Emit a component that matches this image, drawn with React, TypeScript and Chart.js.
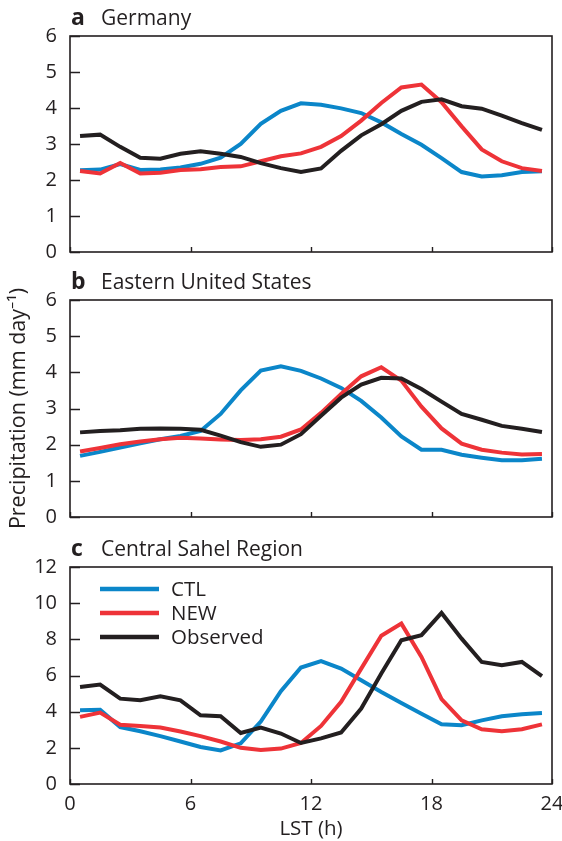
import React, { useEffect, useRef } from "react";
import { Chart, registerables } from "chart.js";

Chart.register(...registerables);

// Local solar time (h) of each hourly mean
const hours = [0.5, 1.5, 2.5, 3.5, 4.5, 5.5, 6.5, 7.5, 8.5, 9.5, 10.5, 11.5, 12.5, 13.5, 14.5, 15.5, 16.5, 17.5, 18.5, 19.5, 20.5, 21.5, 22.5, 23.5];
const xTicks = [0, 6, 12, 18, 24];
const seriesNames = ["CTL", "NEW", "Observed"];

// a  Germany
const germanyCTL = [2.27, 2.29, 2.44, 2.28, 2.29, 2.35, 2.45, 2.62, 3.0, 3.56, 3.92, 4.13, 4.09, 3.99, 3.86, 3.6, 3.28, 2.98, 2.61, 2.22, 2.1, 2.13, 2.22, 2.24];
const germanyNEW = [2.25, 2.18, 2.47, 2.18, 2.2, 2.28, 2.3, 2.36, 2.38, 2.52, 2.66, 2.74, 2.92, 3.22, 3.65, 4.14, 4.57, 4.65, 4.16, 3.49, 2.85, 2.52, 2.33, 2.25];
const germanyObs = [3.22, 3.26, 2.92, 2.62, 2.59, 2.73, 2.8, 2.73, 2.64, 2.47, 2.33, 2.22, 2.32, 2.81, 3.24, 3.55, 3.92, 4.17, 4.24, 4.05, 3.98, 3.79, 3.58, 3.39];

// b  Eastern United States
const usCTL = [1.69, 1.8, 1.92, 2.04, 2.15, 2.24, 2.38, 2.85, 3.5, 4.05, 4.17, 4.04, 3.83, 3.57, 3.21, 2.75, 2.23, 1.86, 1.86, 1.72, 1.64, 1.57, 1.57, 1.61];
const usNEW = [1.81, 1.91, 2.01, 2.09, 2.15, 2.19, 2.17, 2.14, 2.13, 2.15, 2.22, 2.42, 2.88, 3.4, 3.89, 4.14, 3.77, 3.05, 2.45, 2.03, 1.86, 1.78, 1.73, 1.74];
const usObs = [2.34, 2.38, 2.4, 2.44, 2.45, 2.44, 2.41, 2.25, 2.07, 1.94, 2.0, 2.29, 2.8, 3.3, 3.66, 3.85, 3.83, 3.54, 3.19, 2.85, 2.69, 2.52, 2.44, 2.35];

// c  Central Sahel Region
const sahelCTL = [4.08, 4.1, 3.15, 2.92, 2.65, 2.35, 2.05, 1.86, 2.25, 3.45, 5.13, 6.44, 6.8, 6.38, 5.74, 5.09, 4.48, 3.89, 3.3, 3.25, 3.52, 3.75, 3.86, 3.93];
const sahelNEW = [3.71, 3.95, 3.28, 3.21, 3.12, 2.9, 2.65, 2.35, 2.0, 1.88, 1.96, 2.27, 3.21, 4.54, 6.38, 8.2, 8.87, 7.03, 4.69, 3.52, 3.03, 2.92, 3.03, 3.3];
const sahelObs = [5.37, 5.5, 4.72, 4.63, 4.85, 4.63, 3.8, 3.75, 2.82, 3.12, 2.79, 2.27, 2.52, 2.85, 4.17, 6.11, 7.95, 8.23, 9.46, 8.04, 6.75, 6.57, 6.75, 5.96];

const yTicksSmall = [0, 1, 2, 3, 4, 5, 6];
const yTicksLarge = [0, 2, 4, 6, 8, 10, 12];

const panels = [
  { letter: "a", title: "Germany", series: [germanyCTL, germanyNEW, germanyObs], yTicks: yTicksSmall },
  { letter: "b", title: "Eastern United States", series: [usCTL, usNEW, usObs], yTicks: yTicksSmall },
  { letter: "c", title: "Central Sahel Region", series: [sahelCTL, sahelNEW, sahelObs], yTicks: yTicksLarge },
];

// layout (pixels)
const layouts = [
  { top: 0, height: 270, padTop: 36, xAxisH: 18, showX: false, legend: false, yTitle: false },
  { top: 262, height: 273, padTop: 38, xAxisH: 18, showX: false, legend: false, yTitle: true },
  { top: 527, height: 314, padTop: 40, xAxisH: 57, showX: true, legend: true, yTitle: false },
];

const COLORS = ["#0b86c9", "#ee3338", "#231f20"];
const INK = "#231f20";
const FONT = "'Open Sans', 'Noto Sans', sans-serif";

const framePlugin = {
  id: "frame",
  afterDraw(chart: any, _args: any, opts: any) {
    const { ctx, chartArea: a, scales } = chart;
    ctx.save();
    ctx.strokeStyle = INK;
    ctx.lineWidth = 1.6;
    ctx.strokeRect(a.left, a.top, a.right - a.left, a.bottom - a.top);
    ctx.lineWidth = 1.4;
    ctx.beginPath();
    for (const v of opts.yTicks) {
      const y = Math.round(scales.y.getPixelForValue(v)) + 0.5;
      ctx.moveTo(a.left, y);
      ctx.lineTo(a.left + 10, y);
    }
    for (const v of xTicks) {
      const x = Math.round(scales.x.getPixelForValue(v)) + 0.5;
      ctx.moveTo(x, a.bottom);
      ctx.lineTo(x, a.bottom - 5);
    }
    ctx.stroke();

    // panel title
    ctx.fillStyle = INK;
    ctx.textBaseline = "alphabetic";
    ctx.textAlign = "left";
    ctx.font = `bold 23px ${FONT}`;
    ctx.fillText(opts.letter, a.left + 1, a.top - 11);
    ctx.font = `21px ${FONT}`;
    ctx.fillText(opts.title, a.left + 31, a.top - 11);

    // legend
    if (opts.legend) {
      chart.data.datasets.forEach((ds: any, i: number) => {
        const y = a.top + 22 + i * 24;
        ctx.strokeStyle = ds.borderColor;
        ctx.lineWidth = 4.5;
        ctx.lineCap = "butt";
        ctx.beginPath();
        ctx.moveTo(a.left + 30, y);
        ctx.lineTo(a.left + 89, y);
        ctx.stroke();
        ctx.fillStyle = INK;
        ctx.font = `20.5px ${FONT}`;
        ctx.textBaseline = "middle";
        ctx.fillText(ds.label, a.left + 101, y + 1);
      });
    }
    ctx.restore();
  },
};

function Panel({ idx }: { idx: number }) {
  const ref = useRef<HTMLCanvasElement | null>(null);
  const p = panels[idx];
  const l = layouts[idx];
  useEffect(() => {
    if (!ref.current) return;
    const yMax = p.yTicks[p.yTicks.length - 1];
    const chart = new Chart(ref.current, {
      type: "line",
      data: {
        datasets: p.series.map((vals, i) => ({
          label: seriesNames[i],
          data: vals.map((v, k) => ({ x: hours[k], y: v })),
          borderColor: COLORS[i],
          backgroundColor: COLORS[i],
          borderWidth: 4,
          pointRadius: 0,
          tension: 0,
          fill: false,
          order: 2 - i,
        })),
      },
      options: {
        responsive: false,
        animation: false,
        devicePixelRatio: 1,
        layout: { autoPadding: false, padding: { left: 0, right: 10, top: l.padTop, bottom: 0 } },
        plugins: {
          legend: { display: false },
          tooltip: { enabled: false },
          frame: { letter: p.letter, title: p.title, yTicks: p.yTicks, legend: l.legend },
        } as any,
        scales: {
          x: {
            type: "linear",
            min: 0,
            max: 24,
            afterBuildTicks: (s: any) => { s.ticks = xTicks.map((v) => ({ value: v })); },
            afterFit: (s: any) => { s.height = l.xAxisH; s.paddingLeft = 0; s.paddingRight = 0; },
            grid: { display: false, drawTicks: false },
            border: { display: false },
            ticks: { display: l.showX, color: INK, font: { family: FONT, size: 20 }, padding: 8, maxRotation: 0 },
            title: { display: l.showX, text: "LST (h)", color: INK, font: { family: FONT, size: 20.5 }, padding: { top: 0, bottom: 0 } },
          },
          y: {
            type: "linear",
            min: 0,
            max: yMax,
            afterBuildTicks: (s: any) => { s.ticks = p.yTicks.map((v) => ({ value: v })); },
            afterFit: (s: any) => { s.width = 70; s.paddingTop = 0; s.paddingBottom = 0; },
            grid: { display: false, drawTicks: false },
            border: { display: false },
            ticks: { color: INK, font: { family: FONT, size: 20 }, padding: 13 },
            title: { display: l.yTitle, text: "Precipitation (mm day\u207B\u00B9)", color: INK, font: { family: FONT, size: 21.5 }, padding: { top: 6, bottom: 0 } },
          },
        },
      },
      plugins: [framePlugin],
    } as any);
    return () => chart.destroy();
  }, []);
  return (
    <canvas
      ref={ref}
      width={562}
      height={l.height}
      style={{ position: "absolute", left: 0, top: l.top, width: 562, height: l.height }}
    />
  );
}

export default function App() {
  return (
    <div style={{ position: "absolute", left: 0, top: 0, width: 562, height: 841, background: "#fff" }}>
      {panels.map((_, i) => (
        <Panel key={i} idx={i} />
      ))}
    </div>
  );
}
